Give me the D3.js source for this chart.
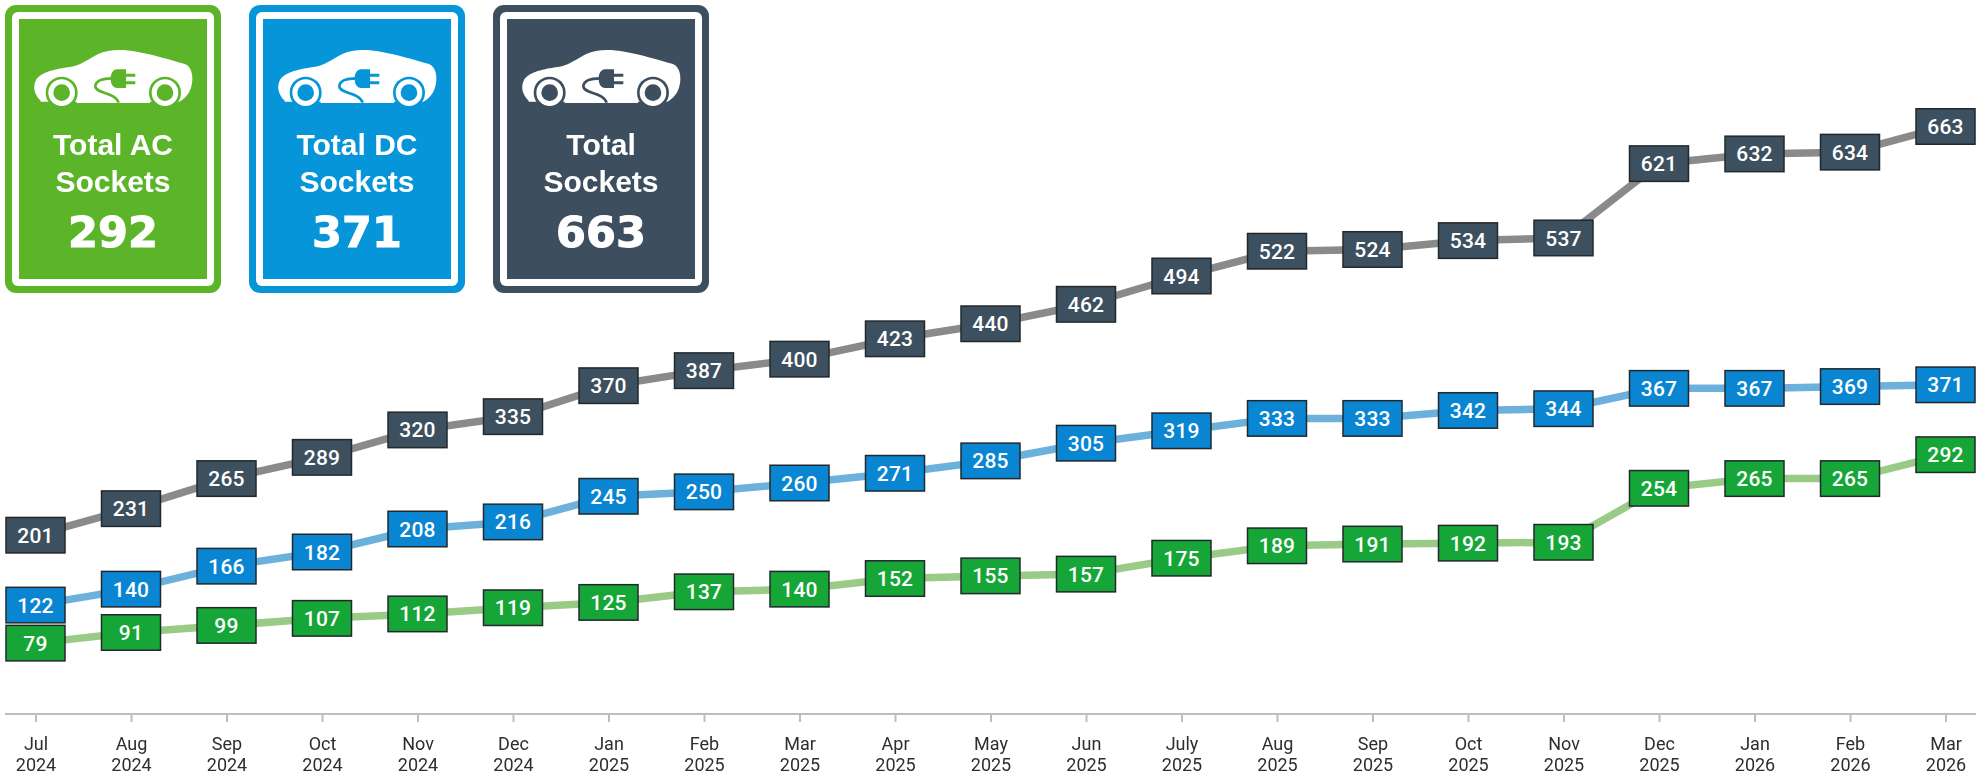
<!DOCTYPE html>
<html><head><meta charset="utf-8">
<script src="https://cdn.jsdelivr.net/npm/d3@7/dist/d3.min.js"></script>
<style>
html,body{margin:0;padding:0;background:#fff;overflow:hidden}
svg{display:block;filter:blur(0.45px)}
</style></head><body><svg id="c" width="1984" height="774"></svg>
<script>
const months=["Jul","Aug","Sep","Oct","Nov","Dec","Jan","Feb","Mar","Apr","May","Jun","July","Aug","Sep","Oct","Nov","Dec","Jan","Feb","Mar"];
const years=["2024","2024","2024","2024","2024","2024","2025","2025","2025","2025","2025","2025","2025","2025","2025","2025","2025","2025","2026","2026","2026"];
const totalSockets=[201,231,265,289,320,335,370,387,400,423,440,462,494,522,524,534,537,621,632,634,663];
const dcSockets=[122,140,166,182,208,216,245,250,260,271,285,305,319,333,333,342,344,367,367,369,371];
const acSockets=[79,91,99,107,112,119,125,137,140,152,155,157,175,189,191,192,193,254,265,265,292];
const cardTitles=[["Total AC","Sockets"],["Total DC","Sockets"],["Total","Sockets"]];
const cardValues=[292,371,663];
const cardColors=["#5cb529","#0795d9","#3d4f5f"];
const cardLefts=[5,249,493];

const svg=d3.select("#c");
const idx=d3.range(months.length);
const x=d3.scalePoint().domain(idx).range([35.5,1945.5]);
const y=d3.scaleLinear().domain([0,663]).range([713,126.5]);

// axis
const axisG=svg.append("g").attr("transform","translate(0,714)")
  .call(d3.axisBottom(x).tickSize(8).tickPadding(0).tickFormat(""));
axisG.select(".domain").attr("d","M5,0H1976").attr("stroke","#bdbdbd").attr("stroke-width",2);
axisG.selectAll(".tick line").attr("stroke","#bdbdbd").attr("stroke-width",2);
axisG.selectAll(".tick").each(function(i){
  const t=d3.select(this).append("text").attr("text-anchor","middle")
    .attr("font-family","Roboto").attr("font-size",18).attr("fill","#2e2e2e");
  t.append("tspan").attr("x",0).attr("y",36).text(months[i]);
  t.append("tspan").attr("x",0).attr("y",57).text(years[i]);
});

// series
const series=[
 {values:totalSockets,line:"#8a8a8a",box:"#3d5060"},
 {values:dcSockets,line:"#6cb1db",box:"#0a85d2"},
 {values:acSockets,line:"#9acb86",box:"#16a637"}
];
const line=d3.line().x((d,i)=>x(i)).y(d=>y(d));
series.forEach(s=>{
  svg.append("path").attr("d",line(s.values)).attr("fill","none").attr("stroke",s.line).attr("stroke-width",7.5);
});
series.forEach(s=>{
  const g=svg.append("g").selectAll("g").data(s.values).join("g")
    .attr("transform",(d,i)=>`translate(${x(i)},${y(d)})`);
  g.append("rect").attr("x",-29.5).attr("y",-17.75).attr("width",59).attr("height",35.5)
    .attr("fill",s.box).attr("stroke","#22282c").attr("stroke-width",1.5);
  g.append("text").attr("text-anchor","middle").attr("dy","0.36em")
    .attr("font-family","Roboto").attr("font-weight",500).attr("font-size",21).attr("letter-spacing",0.3)
    .attr("fill","#fff").text(d=>d);
});

// cards
cardValues.forEach((v,i)=>{
  const c=svg.append("g").attr("transform",`translate(${cardLefts[i]},5)`);
  const col=cardColors[i];
  c.append("rect").attr("width",216).attr("height",288).attr("rx",11).attr("fill",col);
  c.append("rect").attr("x",7).attr("y",7).attr("width",202).attr("height",274).attr("rx",6).attr("fill","#fff");
  c.append("rect").attr("x",14).attr("y",14).attr("width",188).attr("height",260).attr("fill",col);
  // car icon
  const k=c.append("g").attr("transform","translate(15,25) scale(0.3333)");
  k.append("path").attr("fill","#fff")
   .attr("d","M62,212C44,195 37,172 48,150C62,126 110,116 150,111C182,106 208,86 235,72C265,57 310,58 350,65C400,73 450,90 495,102C515,110 521,140 515,165C510,190 495,206 478,215L62,215Z");
  [125,435].forEach(cx=>{
    k.append("circle").attr("cx",cx).attr("cy",188).attr("r",48).attr("fill",col);
    k.append("circle").attr("cx",cx).attr("cy",188).attr("r",40).attr("fill","#fff");
    k.append("circle").attr("cx",cx).attr("cy",188).attr("r",25).attr("fill",col);
  });
  k.append("rect").attr("x",170).attr("y",213).attr("width",220).attr("height",6).attr("fill","#fff");
  k.append("path").attr("fill","none").attr("stroke",col).attr("stroke-width",8)
   .attr("d","M278,145C250,145 228,150 226,168C226,192 285,185 296,218");
  k.append("path").attr("fill",col)
   .attr("d","M292,118H318V131H346V140H318V154H346V163H318V174H292C278,174 272,160 272,146C272,132 278,118 292,118Z");
  // text
  const tx=108;
  cardTitles[i].forEach((t,j)=>{
    c.append("text").attr("x",tx).attr("y",[150,187][j]).attr("text-anchor","middle")
     .attr("font-family","Liberation Sans").attr("font-weight",700).attr("font-size",30).attr("fill","#fff").text(t);
  });
  c.append("text").attr("x",tx).attr("y",242).attr("text-anchor","middle")
   .attr("font-family","DejaVu Sans").attr("font-weight",700).attr("font-size",43)
   .attr("fill","#fff").attr("stroke","#fff").attr("stroke-width",1).text(v);
});
</script></body></html>
